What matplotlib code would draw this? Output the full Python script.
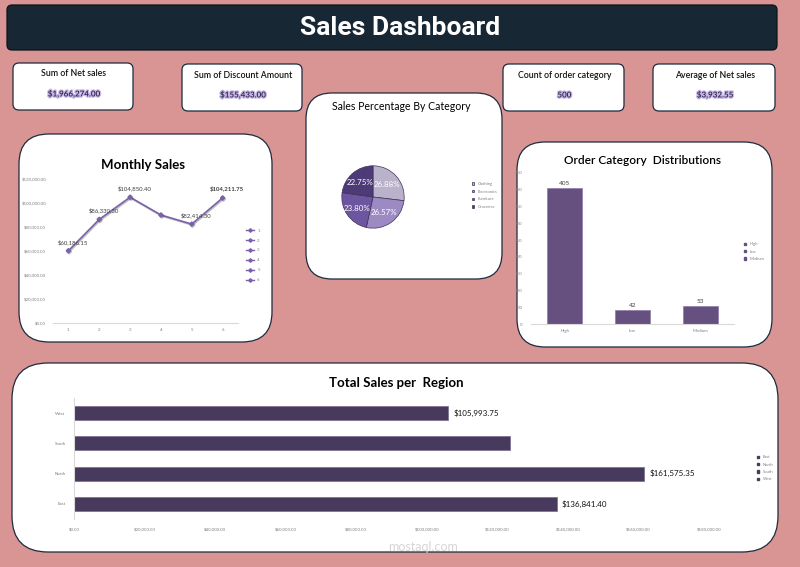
import matplotlib.pyplot as plt
import matplotlib.patheffects as pe
from matplotlib.patches import FancyBboxPatch
from matplotlib.lines import Line2D
from matplotlib.patches import Patch

W, H = 800, 567

# ---- data ----
kpi_titles = ["Sum of Net sales", "Sum of Discount Amount", "Count of order category", "Average of Net sales"]
kpi_values = ["$1,966,274.00", "$155,433.00", "500", "$3,932.55"]

months = [1, 2, 3, 4, 5, 6]
monthly_sales = [60186.15, 86330.30, 104850.40, 90000.00, 82414.30, 104211.75]
monthly_labels = ["$60,186.15", "$86,330.30", "$104,850.40", "", "$82,414.30", "$104,211.75"]

categories = ["Clothing", "Electronics", "Furniture", "Groceries"]
category_share = [26.88, 26.57, 23.80, 22.75]

priorities = ["High", "low", "Medium"]
priority_counts = [405, 42, 53]

regions = ["East", "North", "South", "West"]
region_sales = [136841.40, 161575.35, 123600.00, 105993.75]
region_labels = ["$136,841.40", "$161,575.35", "", "$105,993.75"]

plt.rcParams["font.family"] = ["Lato", "DejaVu Sans"]

fig = plt.figure(figsize=(8, 5.67), dpi=100)
fig.patch.set_facecolor("#D99594")
bg = fig.add_axes([0, 0, 1, 1])
bg.set_xlim(0, W)
bg.set_ylim(H, 0)
bg.axis("off")


def panel(x0, y0, x1, y1, r, fc="white", ec="#1C2B3E", lw=0.9):
    bg.add_patch(FancyBboxPatch((x0 + r, y0 + r), x1 - x0 - 2 * r, y1 - y0 - 2 * r,
                                boxstyle=f"round,pad={r}", fc=fc, ec=ec, lw=lw))


def px_axes(x0, y0, x1, y1):
    return fig.add_axes([x0 / W, 1 - y1 / H, (x1 - x0) / W, (y1 - y0) / H])


def tiny_axes(ax):
    for s in ax.spines.values():
        s.set_visible(False)
    ax.tick_params(length=0, labelsize=3.2, labelcolor="#808080")
    ax.set_facecolor("none")


# ---- header ----
panel(7, 5, 777, 50, 5, fc="#172733", ec="#0B141C")
bg.text(400, 28, "Sales Dashboard", color="white", fontsize=19, fontweight="bold",
        family="Roboto", ha="center", va="center")

# ---- KPI cards ----
kpi_boxes = [(13, 63, 133, 110), (182, 64, 302, 111), (503, 64, 624, 111), (653, 64, 775, 111)]
for (x0, y0, x1, y1), t, v in zip(kpi_boxes, kpi_titles, kpi_values):
    panel(x0, y0, x1, y1, 6)
    cx = (x0 + x1) / 2 + 1
    bg.text(cx, y0 + 11, t, fontsize=6.3, fontweight="semibold", color="#111111", ha="center", va="center")
    bg.text(cx, y0 + 31, v, fontsize=5.8, fontweight="bold", color="#352C5A", ha="center", va="center",
            path_effects=[pe.withStroke(linewidth=1.8, foreground="#C9B8E6")])

# ---- panels ----
panel(19, 134, 272, 342, 30)
panel(306, 93, 502, 279, 26)
panel(517, 142, 772, 347, 28)
panel(12, 363, 778, 552, 36)

# ---- Monthly Sales ----
bg.text(143, 165, "Monthly Sales", fontsize=9.5, fontweight="bold", ha="center", va="center")
ax = px_axes(53, 179, 238, 323)
tiny_axes(ax)
ax.spines["bottom"].set_visible(True)
ax.spines["bottom"].set_color("#D9D9D9")
ax.plot(months, monthly_sales, color="#7B62A8", lw=1.2, marker="D", ms=2.2,
        path_effects=[pe.SimpleLineShadow(offset=(0.6, -0.8), alpha=0.25), pe.Normal()])
for m, v, lab in zip(months, monthly_sales, monthly_labels):
    if lab:
        ax.annotate(lab, (m, v), xytext=(3, 5), textcoords="offset points", ha="center",
                    fontsize=4.3, color="#404040",
                    fontweight="bold" if m == months[-1] else "normal")
ax.set_xlim(0.5, 6.5)
ax.set_ylim(0, 120000)
ax.set_xticks(months)
ax.set_yticks(range(0, 120001, 20000))
ax.set_yticklabels([f"${v:,.2f}" for v in range(0, 120001, 20000)])
ax.tick_params(axis="y", pad=5)
handles = [Line2D([], [], color="#7B62A8", lw=1, marker="D", ms=1.8) for _ in months]
ax.legend(handles, [str(m) for m in months], loc="center left", bbox_to_anchor=(1.02, 0.47),
          frameon=False, fontsize=3.2, handlelength=1.8, labelspacing=1.3, labelcolor="#808080")

# ---- Sales Percentage By Category ----
bg.text(401, 107, "Sales Percentage By Category", fontsize=7.6, ha="center", va="center")
ax = px_axes(334, 158, 412, 236)
pie_colors = ["#BAB2CA", "#9C8BC3", "#6E55A0", "#4D3A76"]
wedges, texts, pcts = ax.pie(category_share, colors=pie_colors, startangle=90, counterclock=False,
                             autopct=lambda p: f"{p:.2f}%", pctdistance=0.62,
                             wedgeprops=dict(edgecolor="#3E3058", linewidth=0.5),
                             textprops=dict(color="white", fontsize=5.7))
ax.set_aspect("equal")
ax.legend(wedges, categories, loc="center left", bbox_to_anchor=(1.72, 0.52), frameon=False,
          fontsize=3, handlelength=0.5, handleheight=0.5, labelspacing=0.9, labelcolor="#808080")

# ---- Order Category Distributions ----
bg.text(642, 160, "Order Category  Distributions", fontsize=8.6, fontweight="semibold", ha="center", va="center")
ax = px_axes(531, 173, 734, 324)
tiny_axes(ax)
ax.spines["bottom"].set_visible(True)
ax.spines["bottom"].set_color("#D9D9D9")
bars = ax.bar(range(len(priorities)), priority_counts, width=0.52, color="#65507F",
              edgecolor="#8E7BAA", linewidth=0.5)
for i, v in enumerate(priority_counts):
    ax.text(i, v + 6, str(v), fontsize=4.6, color="#404040", ha="center", va="bottom")
ax.set_xlim(-0.5, 2.5)
ax.set_ylim(0, 450)
ax.set_xticks(range(len(priorities)))
ax.set_xticklabels(priorities)
ax.set_yticks(range(0, 451, 50))
ax.tick_params(axis="y", pad=6)
ax.legend([Patch(color="#65507F") for _ in priorities], priorities, loc="center left",
          bbox_to_anchor=(1.03, 0.48), frameon=False, fontsize=3, handlelength=0.5,
          handleheight=0.5, labelspacing=0.8, labelcolor="#808080")

# ---- Total Sales per Region ----
bg.text(396, 383, "Total Sales per  Region", fontsize=9.5, fontweight="bold", ha="center", va="center")
ax = px_axes(74, 398, 709, 519)
tiny_axes(ax)
ax.spines["left"].set_visible(True)
ax.spines["left"].set_color("#D9D9D9")
ax.barh(range(len(regions)), region_sales, height=0.47, color="#483A5C",
        edgecolor="#7A6B90", linewidth=0.5)
for i, (v, lab) in enumerate(zip(region_sales, region_labels)):
    if lab:
        ax.text(v + 1500, i, lab, fontsize=5.8, color="#111111", va="center", ha="left")
ax.set_xlim(0, 180000)
ax.set_ylim(-0.5, 3.5)
ax.set_yticks(range(len(regions)))
ax.set_yticklabels(regions)
ax.set_xticks(range(0, 180001, 20000))
ax.set_xticklabels([f"${v:,.2f}" for v in range(0, 180001, 20000)])
ax.tick_params(axis="x", pad=6)
ax.tick_params(axis="y", pad=6)
ax.legend([Patch(color="#483A5C") for _ in regions], regions, loc="center left",
          bbox_to_anchor=(1.07, 0.42), frameon=False, fontsize=3, handlelength=0.5,
          handleheight=0.5, labelspacing=0.8, labelcolor="#808080")

# watermark
bg.text(423, 547, "mostaql.com", fontsize=9, color="#D6D6D6", ha="center", va="center")

fig.savefig("out.png", dpi=100, facecolor=fig.get_facecolor())
